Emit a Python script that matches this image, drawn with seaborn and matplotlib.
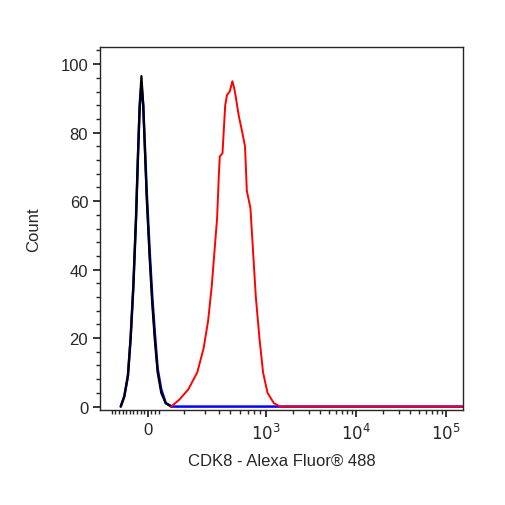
import numpy as np
import seaborn as sns
import pandas as pd
from matplotlib import pyplot as plt

# x in display units: 0 -> 0, 10^3 -> 1.31, one decade = 1.0
red_x = [0.26, 0.35, 0.45, 0.55, 0.62, 0.67, 0.71, 0.74, 0.77, 0.79, 0.80, 0.83, 0.86, 0.88, 0.91,
         0.94, 0.96, 0.98, 1.01, 1.05, 1.08, 1.10, 1.14, 1.17, 1.20, 1.24, 1.28, 1.33, 1.40, 1.47, 3.5]
red_y = [0, 2, 5, 10, 17, 25, 35, 45, 55, 68, 73, 74, 88, 91, 92,
         95, 93, 90, 85, 80, 76, 63, 58, 45, 32, 20, 10, 4, 1, 0, 0]
black_x = [-0.30, -0.26, -0.22, -0.19, -0.16, -0.13, -0.11, -0.09, -0.07, -0.05, -0.03, -0.01,
           0.02, 0.05, 0.08, 0.11, 0.15, 0.20, 0.26]
black_y = [0, 3, 9, 20, 35, 55, 72, 88, 96.5, 88, 74, 60, 44, 30, 19, 10, 4, 1, 0]
blue_x = [-0.30, -0.26, -0.22, -0.19, -0.16, -0.13, -0.11, -0.09, -0.07, -0.05, -0.03, -0.01,
          0.02, 0.05, 0.08, 0.11, 0.15, 0.20, 0.27, 3.5]
blue_y = [0, 3, 9, 20, 35, 55, 72, 87, 94, 88, 75, 62, 46, 32, 21, 11, 5, 1, 0, 0]
tick_pos = [0, 1.31, 2.31, 3.31]
tick_lab = ['0', '$10^3$', '$10^4$', '$10^5$']

sns.set_style('ticks')
plt.rcParams['font.family'] = ['Liberation Sans', 'DejaVu Sans']
fig = plt.figure(figsize=(5.06, 5.06), dpi=100)
ax = fig.add_axes([100/506, (506-411)/506, 363/506, 363/506])

sns.lineplot(x=blue_x, y=blue_y, color='blue', lw=1.8, ax=ax, sort=False)
sns.lineplot(x=black_x, y=black_y, color='black', lw=1.6, ax=ax, sort=False)
sns.lineplot(x=red_x, y=red_y, color='red', lw=1.4, ax=ax, sort=False)

ax.set_xlim(-0.53, 3.5)
ax.set_ylim(-1, 105)
ax.set_xticks(tick_pos)
ax.set_xticklabels(tick_lab, fontsize=12)
minor = [1.31 + d + np.log10(m) for d in range(3) for m in range(2, 10)]
minor += [1.31 + np.log10(m / 10) * 1.3 for m in range(2, 10)]
minor += list(np.linspace(-0.4, 0.12, 14))
ax.set_xticks([m for m in minor if m < 3.5], minor=True)
ax.set_yticks([0, 20, 40, 60, 80, 100])
ax.set_yticks(np.arange(0, 105, 4), minor=True)
ax.tick_params(axis='both', which='major', length=5, width=1.3, labelsize=12)
ax.tick_params(axis='both', which='minor', length=3, width=1)
for s in ax.spines.values():
    s.set_linewidth(1)
ax.set_xlabel('CDK8 - Alexa Fluor® 488', fontsize=12, labelpad=8)
ax.set_ylabel('Count', fontsize=12, labelpad=14)
fig.savefig('out.png', dpi=100)
